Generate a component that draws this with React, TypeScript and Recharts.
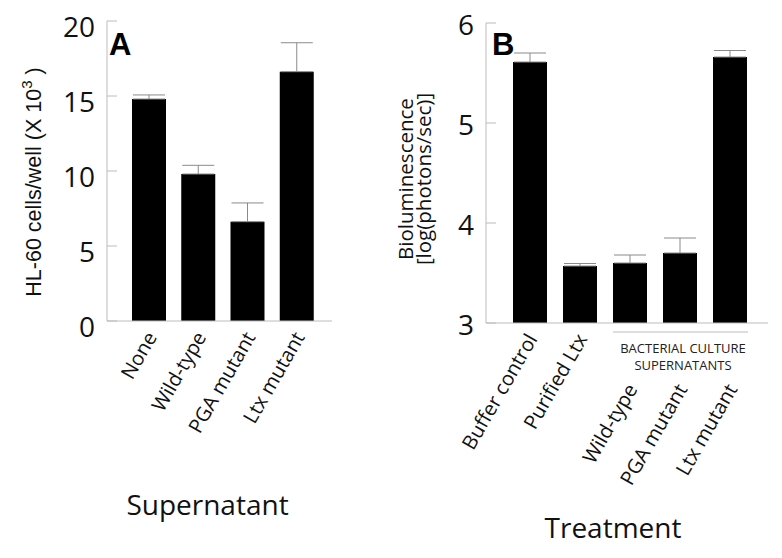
import React from 'react'
import { BarChart, Bar, XAxis, YAxis, ErrorBar, Label } from 'recharts'

// Panel A: HL-60 cells per well (x 10^3)
const supernatants = ['None', 'Wild-type', 'PGA mutant', 'Ltx mutant']
const hl60Cells = [14.8, 9.8, 6.62, 16.62]
const hl60Sem = [0.27, 0.58, 1.25, 1.93]
const hl60Ticks = [0, 5, 10, 15, 20]

// Panel B: bioluminescence, log(photons/sec)
const treatments = ['Buffer control', 'Purified Ltx', 'Wild-type', 'PGA mutant', 'Ltx mutant']
const biolum = [5.61, 3.57, 3.6, 3.7, 5.66]
const biolumSem = [0.09, 0.025, 0.08, 0.15, 0.065]
const biolumTicks = [3, 4, 5, 6]
const groupCaption = ['BACTERIAL CULTURE', 'SUPERNATANTS']
const groupFirst = 2 // first treatment that belongs to the culture-supernatant group

const FONT = '"Open Sans", Lato, sans-serif'
const SANS = '"Liberation Sans", Arial, sans-serif'
const FRAME = '#bcbcbc'
const ERR = '#8a8a8a'

const dataA = supernatants.map((name, i) => ({ name, value: hl60Cells[i], err: [0, hl60Sem[i]] }))
const dataB = treatments.map((name, i) => ({ name, value: biolum[i], err: [0, biolumSem[i]] }))

function ValueTick({ x, y, payload, shift }: any) {
  return (
    <g>
      <line x1={x} x2={x + 10} y1={y} y2={y} stroke={FRAME} />
      <text x={x - 12} y={y + shift} textAnchor="end" fontSize={28} fontFamily={FONT} fill="#111">
        {payload.value}
      </text>
    </g>
  )
}

function CategoryTickA({ x, y, payload }: any) {
  const ex = x + 9
  const ey = y + 16
  return (
    <text
      x={ex}
      y={ey}
      transform={`rotate(-60, ${ex}, ${ey})`}
      textAnchor="end"
      fontSize={20}
      fontFamily={FONT}
      fill="#111"
    >
      {payload.value}
    </text>
  )
}

function CategoryTickB({ x, y, payload, index }: any) {
  const ex = x + 8
  const ey = y + (index >= groupFirst ? 66 : 16)
  return (
    <g>
      <text
        x={ex}
        y={ey}
        transform={`rotate(-60, ${ex}, ${ey})`}
        textAnchor="end"
        fontSize={20}
        fontFamily={FONT}
        fill="#111"
      >
        {payload.value}
      </text>
      {index === 3 && (
        <g>
          <line x1={x - 67} x2={x + 68} y1={y + 9} y2={y + 9} stroke={FRAME} />
          {groupCaption.map((t, k) => (
            <text
              key={t}
              x={x + 3}
              y={y + 30 + k * 17}
              textAnchor="middle"
              fontSize={13}
              fontFamily={FONT}
              fill="#222"
            >
              {t}
            </text>
          ))}
        </g>
      )}
    </g>
  )
}

function HL60Title({ viewBox }: any) {
  const cx = viewBox.x + 41
  const cy = viewBox.y + 161
  return (
    <g>
      <text
        x={cx}
        y={cy}
        transform={`rotate(-90, ${cx}, ${cy})`}
        textAnchor="middle"
        fontSize={21.5}
        fontFamily={SANS}
        fill="#111"
      >
        HL-60 cells/well (X 10
        <tspan dy={-9} fontSize={15}>3</tspan>
        <tspan dy={9}> )</tspan>
      </text>
      <text x={viewBox.x + viewBox.width + 2} y={viewBox.y + 34} fontSize={31} fontWeight="bold" fontFamily={SANS} fill="#000">
        A
      </text>
    </g>
  )
}

function BiolumTitle({ viewBox }: any) {
  const cy = viewBox.y + 156
  const lines = ['Bioluminescence', '[log(photons/sec)]']
  return (
    <g>
      {lines.map((t, k) => {
        const cx = viewBox.x + 43 + k * 18
        return (
          <text
            key={t}
            x={cx}
            y={cy}
            transform={`rotate(-90, ${cx}, ${cy})`}
            textAnchor="middle"
            fontSize={20.5}
            fontFamily={FONT}
            fill="#111"
          >
            {t}
          </text>
        )
      })}
      <text x={viewBox.x + viewBox.width + 6} y={viewBox.y + 32} fontSize={31} fontWeight="bold" fontFamily={SANS} fill="#000">
        B
      </text>
    </g>
  )
}

function AxisTitle({ viewBox, text, dx, dy }: any) {
  return (
    <text
      x={viewBox.x + viewBox.width / 2 + dx}
      y={viewBox.y + dy}
      textAnchor="middle"
      fontSize={28}
      fontFamily={FONT}
      fill="#111"
    >
      {text}
    </text>
  )
}

export default function App() {
  return (
    <div style={{ position: 'absolute', left: 0, top: 0, width: 782, height: 558, background: '#fff', overflow: 'hidden' }}>
      <div style={{ position: 'absolute', left: 0, top: 0 }}>
        <BarChart width={345} height={558} data={dataA} margin={{ top: 21, right: 13, bottom: 0, left: 0 }}>
          <XAxis
            dataKey="name"
            height={237}
            padding={{ left: 17, right: 11 }}
            tickSize={0}
            tickMargin={0}
            tickLine={false}
            axisLine={{ stroke: FRAME }}
            tick={<CategoryTickA />}
            interval={0}
          >
            <Label content={(p: any) => <AxisTitle viewBox={p.viewBox} text="Supernatant" dx={-12} dy={194} />} />
          </XAxis>
          <XAxis xAxisId="frame" dataKey="name" orientation="top" height={0} tick={false} tickLine={false} axisLine={{ stroke: FRAME }} />
          <YAxis
            domain={[0, 20]}
            ticks={hl60Ticks}
            width={107}
            tickSize={0}
            tickMargin={0}
            tickLine={false}
            axisLine={{ stroke: FRAME }}
            tick={<ValueTick shift={16} />}
            interval={0}
          >
            <Label content={(p: any) => <HL60Title viewBox={p.viewBox} />} />
          </YAxis>
          <YAxis yAxisId="frame" orientation="right" width={0} tick={false} tickLine={false} axisLine={{ stroke: FRAME }} />
          <Bar dataKey="value" fill="#000" barSize={34} isAnimationActive={false}>
            <ErrorBar dataKey="err" width={16} stroke={ERR} strokeWidth={1} direction="y" />
          </Bar>
        </BarChart>
      </div>
      <div style={{ position: 'absolute', left: 370, top: 0 }}>
        <BarChart width={412} height={558} data={dataB} margin={{ top: 23, right: 14, bottom: 0, left: 0 }}>
          <XAxis
            dataKey="name"
            height={235}
            padding={{ left: 19, right: 13 }}
            tickSize={0}
            tickMargin={0}
            tickLine={false}
            axisLine={{ stroke: FRAME }}
            tick={<CategoryTickB />}
            interval={0}
          >
            <Label content={(p: any) => <AxisTitle viewBox={p.viewBox} text="Treatment" dx={-14} dy={215} />} />
          </XAxis>
          <XAxis xAxisId="frame" dataKey="name" orientation="top" height={0} tick={false} tickLine={false} axisLine={{ stroke: FRAME }} />
          <YAxis
            domain={[3, 6]}
            ticks={biolumTicks}
            width={116}
            tickSize={0}
            tickMargin={0}
            tickLine={false}
            axisLine={{ stroke: FRAME }}
            tick={<ValueTick shift={12} />}
            interval={0}
            allowDataOverflow
          >
            <Label content={(p: any) => <BiolumTitle viewBox={p.viewBox} />} />
          </YAxis>
          <YAxis yAxisId="frame" orientation="right" width={0} tick={false} tickLine={false} axisLine={{ stroke: FRAME }} />
          <Bar dataKey="value" fill="#000" barSize={34} isAnimationActive={false}>
            <ErrorBar dataKey="err" width={16} stroke={ERR} strokeWidth={1} direction="y" />
          </Bar>
        </BarChart>
      </div>
    </div>
  )
}
